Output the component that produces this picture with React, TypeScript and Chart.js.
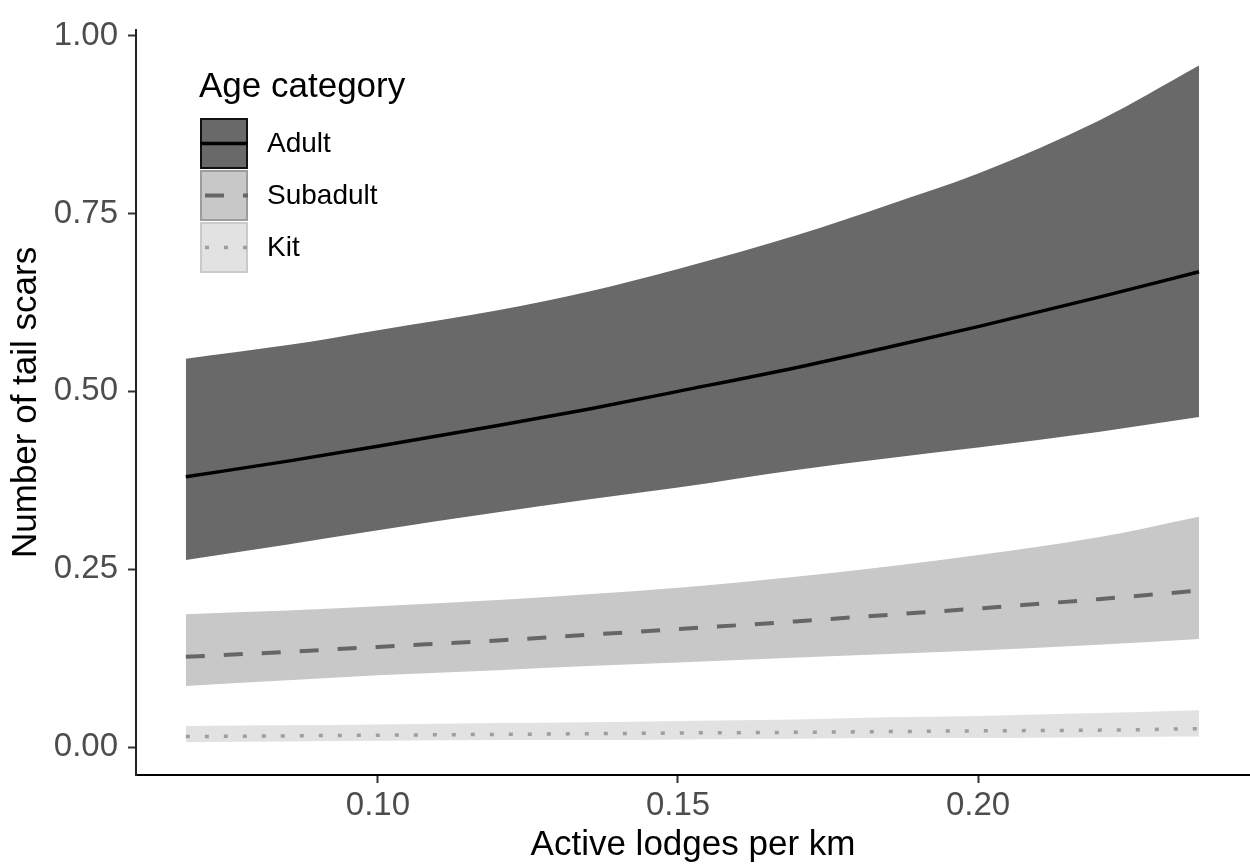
import React, { useEffect, useRef } from "react";
import { Chart, registerables } from "chart.js";

Chart.register(...registerables);

// ---- data ----
const X_VALUES = [0.068, 0.085, 0.1, 0.12, 0.135, 0.15, 0.17, 0.185, 0.2, 0.22, 0.2368];

const ADULT_FIT = [0.38, 0.402, 0.423, 0.452, 0.475, 0.5, 0.534, 0.562, 0.591, 0.632, 0.668];
const ADULT_LOWER = [0.263, 0.285, 0.305, 0.33, 0.348, 0.365, 0.39, 0.406, 0.421, 0.443, 0.464];
const ADULT_UPPER = [0.546, 0.565, 0.586, 0.614, 0.64, 0.672, 0.72, 0.762, 0.806, 0.88, 0.958];

const SUB_FIT = [0.127, 0.134, 0.141, 0.15, 0.158, 0.166, 0.177, 0.186, 0.195, 0.208, 0.22];
const SUB_LOWER = [0.086, 0.094, 0.101, 0.108, 0.114, 0.119, 0.126, 0.131, 0.136, 0.144, 0.152];
const SUB_UPPER = [0.187, 0.192, 0.198, 0.207, 0.215, 0.224, 0.24, 0.254, 0.27, 0.295, 0.324];

const KIT_FIT = [0.015, 0.016, 0.017, 0.018, 0.019, 0.02, 0.021, 0.022, 0.023, 0.024, 0.026];
const KIT_LOWER = [0.007, 0.008, 0.009, 0.01, 0.01, 0.011, 0.012, 0.013, 0.013, 0.014, 0.015];
const KIT_UPPER = [0.03, 0.031, 0.032, 0.034, 0.035, 0.037, 0.039, 0.042, 0.044, 0.048, 0.052];

const SERIES_NAMES = ["Adult", "Subadult", "Kit"];
const LEGEND_TITLE = "Age category";
const X_TITLE = "Active lodges per km";
const Y_TITLE = "Number of tail scars";
const X_TICKS = [0.1, 0.15, 0.2];
const Y_TICKS = [0, 0.25, 0.5, 0.75, 1.0];

// ---- styles ----
const FONT = "'Liberation Sans', Arial, Helvetica, sans-serif";
const RIBBON_COLORS = ["#696969", "#c8c8c8", "#e2e2e2"];
const LINE_COLORS = ["#000000", "#666666", "#9e9e9e"];
const LINE_DASHES: number[][] = [[], [19, 19], [4, 15]];
const LINE_WIDTHS = [3.5, 4, 3.5];
const KEY_BORDERS = ["#111111", "#9c9c9c", "#cacaca"];

const pts = (ys: number[]) => X_VALUES.map((x, i) => ({ x, y: ys[i] }));

const legendPlugin = {
  id: "ggLegend",
  afterDraw(chart: any) {
    const ctx = chart.ctx as CanvasRenderingContext2D;
    ctx.save();
    ctx.fillStyle = "#000";
    ctx.font = `35px ${FONT}`;
    ctx.textAlign = "left";
    ctx.textBaseline = "alphabetic";
    ctx.fillText(LEGEND_TITLE, 199, 97);
    const kx = 200;
    const kw = 48;
    const kh = 51;
    SERIES_NAMES.forEach((name, i) => {
      const ky = 118 + i * 52;
      ctx.fillStyle = RIBBON_COLORS[i];
      ctx.fillRect(kx, ky, kw, kh);
      ctx.strokeStyle = KEY_BORDERS[i];
      ctx.lineWidth = 2;
      ctx.setLineDash([]);
      ctx.strokeRect(kx + 1, ky + 1, kw - 2, kh - 2);
      ctx.beginPath();
      ctx.strokeStyle = LINE_COLORS[i];
      ctx.lineWidth = LINE_WIDTHS[i];
      ctx.setLineDash(LINE_DASHES[i]);
      ctx.lineDashOffset = -5;
      ctx.lineCap = "butt";
      ctx.moveTo(kx, ky + kh / 2);
      ctx.lineTo(kx + kw, ky + kh / 2);
      ctx.stroke();
      ctx.setLineDash([]);
      ctx.lineDashOffset = 0;
      ctx.fillStyle = "#000";
      ctx.font = `28px ${FONT}`;
      ctx.textBaseline = "middle";
      ctx.fillText(name, 267, ky + kh / 2 + 1);
    });
    ctx.restore();
  },
};

export default function App() {
  const ref = useRef<HTMLCanvasElement | null>(null);

  useEffect(() => {
    if (!ref.current) return;
    const groups = [
      [ADULT_LOWER, ADULT_UPPER, ADULT_FIT],
      [SUB_LOWER, SUB_UPPER, SUB_FIT],
      [KIT_LOWER, KIT_UPPER, KIT_FIT],
    ];
    const datasets: any[] = [];
    groups.forEach(([lo, hi], i) => {
      datasets.push({
        label: SERIES_NAMES[i] + " lower",
        data: pts(lo),
        borderWidth: 0,
        borderColor: "rgba(0,0,0,0)",
        pointRadius: 0,
        fill: false,
        order: 2,
        cubicInterpolationMode: "monotone",
      });
      datasets.push({
        label: SERIES_NAMES[i] + " upper",
        data: pts(hi),
        borderWidth: 0,
        borderColor: "rgba(0,0,0,0)",
        backgroundColor: RIBBON_COLORS[i],
        pointRadius: 0,
        fill: "-1",
        order: 2,
        cubicInterpolationMode: "monotone",
      });
    });
    groups.forEach(([, , fit], i) => {
      datasets.push({
        label: SERIES_NAMES[i],
        data: pts(fit),
        borderColor: LINE_COLORS[i],
        borderWidth: LINE_WIDTHS[i],
        borderDash: LINE_DASHES[i],
        borderCapStyle: "butt",
        pointRadius: 0,
        fill: false,
        order: 0,
        cubicInterpolationMode: "monotone",
      });
    });

    const chart = new Chart(ref.current, {
      type: "line",
      data: { datasets },
      plugins: [legendPlugin],
      options: {
        animation: false,
        responsive: false,
        layout: { padding: { top: 19, left: 0, right: 0, bottom: 0 } },
        plugins: {
          legend: { display: false },
          tooltip: { enabled: false },
        },
        scales: {
          x: {
            type: "linear",
            min: 0.0597,
            max: 0.2453,
            afterFit: (s: any) => {
              s.height = 92;
            },
            afterBuildTicks: (s: any) => {
              s.ticks = X_TICKS.map((v) => ({ value: v }));
            },
            ticks: {
              color: "#4d4d4d",
              font: { family: FONT, size: 33 },
              padding: 3,
              maxRotation: 0,
              callback: (v: any) => Number(v).toFixed(2),
            },
            grid: {
              drawOnChartArea: false,
              drawTicks: true,
              tickLength: 8,
              tickColor: "#333",
              tickWidth: 2,
            },
            border: { display: true, color: "#000", width: 2 },
            title: {
              display: true,
              text: X_TITLE,
              color: "#000",
              font: { family: FONT, size: 35 },
              padding: { top: 0, bottom: 1 },
            },
          },
          y: {
            type: "linear",
            min: -0.039,
            max: 1.008,
            afterFit: (s: any) => {
              s.width = 136;
            },
            afterBuildTicks: (s: any) => {
              s.ticks = Y_TICKS.map((v) => ({ value: v }));
            },
            ticks: {
              color: "#4d4d4d",
              font: { family: FONT, size: 33 },
              padding: 10,
              callback: (v: any) => Number(v).toFixed(2),
            },
            grid: {
              drawOnChartArea: false,
              drawTicks: true,
              tickLength: 8,
              tickColor: "#333",
              tickWidth: 2,
            },
            border: { display: true, color: "#222", width: 2 },
            title: {
              display: true,
              text: Y_TITLE,
              color: "#000",
              font: { family: FONT, size: 35 },
              padding: { top: 5, bottom: 0 },
            },
          },
        },
      } as any,
    });
    return () => chart.destroy();
  }, []);

  return (
    <div style={{ position: "absolute", left: 0, top: 0, width: 1250, height: 867, background: "#fff" }}>
      <canvas ref={ref} width={1250} height={867} style={{ width: 1250, height: 867, display: "block" }} />
    </div>
  );
}
